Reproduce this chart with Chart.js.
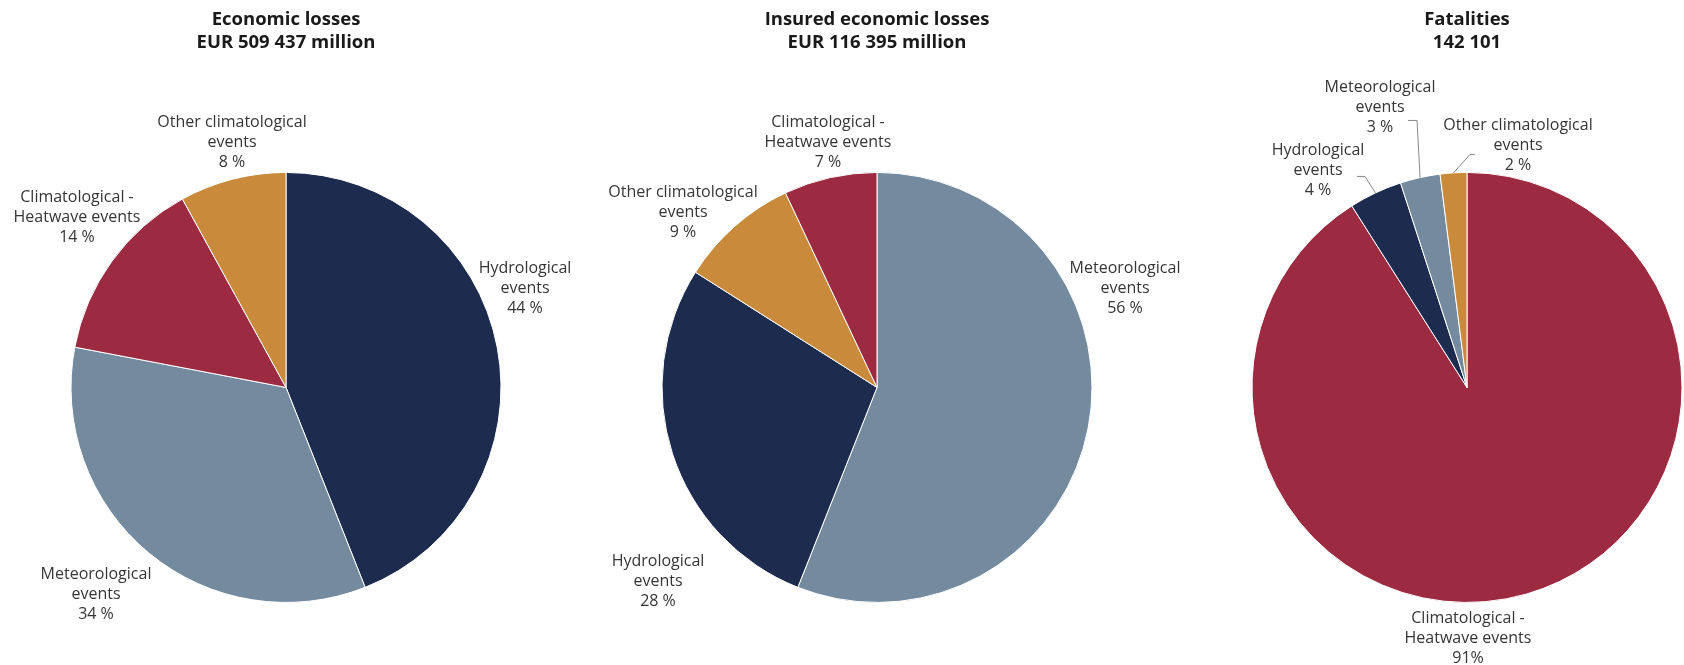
<!DOCTYPE html>
<html>
<head>
<meta charset="utf-8">
<script src="https://cdn.jsdelivr.net/npm/chart.js@4.4.1/dist/chart.umd.min.js"></script>
<style>
  body { margin: 0; background: #fff; }
  #wrap { position: relative; width: 1684px; height: 665px; }
  #wrap canvas { position: absolute; left: 0; top: 0; }
</style>
</head>
<body>
<div id="wrap">
  <canvas id="c-economic" width="1684" height="665"></canvas>
  <canvas id="c-insured" width="1684" height="665"></canvas>
  <canvas id="c-fatalities" width="1684" height="665"></canvas>
</div>
<script>
// Shares by hazard type (%), slices run clockwise from 12 o'clock
const economicTitle = ['Economic losses', 'EUR 509 437 million'];
const economicCats = [['Hydrological', 'events'], ['Meteorological', 'events'], ['Climatological -', 'Heatwave events'], ['Other climatological', 'events']];
const economicPct = [44, 34, 14, 8];

const insuredTitle = ['Insured economic losses', 'EUR 116 395 million'];
const insuredCats = [['Meteorological', 'events'], ['Hydrological', 'events'], ['Other climatological', 'events'], ['Climatological -', 'Heatwave events']];
const insuredPct = [56, 28, 9, 7];

const fatalitiesTitle = ['Fatalities', '142 101'];
const fatalitiesCats = [['Climatological -', 'Heatwave events'], ['Hydrological', 'events'], ['Meteorological', 'events'], ['Other climatological', 'events']];
const fatalitiesPct = [91, 4, 3, 2];
const fatalitiesUnits = ['%', ' %', ' %', ' %'];

const NAVY = '#1d2b4f', SLATE = '#738a9f', CRIMSON = '#9c2a41', OCHRE = '#c98a3b';
const FONT = "'Open Sans', sans-serif";
const W = 1684, R = 215.5;

Chart.defaults.font.family = FONT;

// category text + percentage, centred on an offset from the pie centre,
// optionally with an elbow leader running to the middle of the slice edge
const sliceLabels = {
  id: 'sliceLabels',
  afterDatasetsDraw(chart, args, opts) {
    const ctx = chart.ctx;
    const meta = chart.getDatasetMeta(0);
    const cats = chart.data.labels;
    const vals = chart.data.datasets[0].data;
    const lh = 20;
    ctx.save();
    ctx.font = `16px ${FONT}`;
    ctx.fillStyle = '#363636';
    ctx.strokeStyle = '#8a8a8a';
    ctx.lineWidth = 1;
    ctx.textAlign = 'center';
    ctx.textBaseline = 'middle';
    meta.data.forEach((arc, i) => {
      const [dx, dy] = opts.offsets[i];
      const unit = opts.units ? opts.units[i] : ' %';
      const lines = [...cats[i], vals[i] + unit];
      const x = arc.x + dx;
      const y0 = arc.y + dy - (lines.length - 1) / 2 * lh;
      lines.forEach((t, k) => ctx.fillText(t, x, y0 + k * lh));

      const lead = opts.leaders && opts.leaders[i];
      if (lead) {
        const mid = (arc.startAngle + arc.endAngle) / 2;
        ctx.beginPath();
        ctx.moveTo(arc.x + lead[0], arc.y + lead[2]);
        ctx.lineTo(arc.x + lead[1], arc.y + lead[2]);
        ctx.lineTo(arc.x + Math.cos(mid) * arc.outerRadius, arc.y + Math.sin(mid) * arc.outerRadius);
        ctx.stroke();
      }
    });
    ctx.restore();
  }
};

function makePie(id, title, cats, vals, colors, cx, labelOpts) {
  return new Chart(document.getElementById(id), {
    type: 'pie',
    data: {
      labels: cats,
      datasets: [{ data: vals, backgroundColor: colors, borderColor: '#fff', borderWidth: 1 }],
    },
    options: {
      responsive: false,
      animation: false,
      events: [],
      layout: { padding: { left: cx - R, right: W - cx - R, top: 0, bottom: 62 } },
      plugins: {
        legend: { display: false },
        tooltip: { enabled: false },
        title: {
          display: true, text: title, color: '#1a1a1a',
          font: { size: 18.5, weight: 'bold', family: FONT, lineHeight: 1.24 },
          padding: { top: 8, bottom: 118 },
        },
        sliceLabels: labelOpts,
      },
    },
    plugins: [sliceLabels],
  });
}

makePie('c-economic', economicTitle, economicCats, economicPct,
  [NAVY, SLATE, CRIMSON, OCHRE], 286,
  { offsets: [[239, -99], [-190, 207], [-209, -170], [-54, -245]] });

makePie('c-insured', insuredTitle, insuredCats, insuredPct,
  [SLATE, NAVY, OCHRE, CRIMSON], 877,
  { offsets: [[248, -99], [-219, 194], [-194, -175], [-49, -245]] });

makePie('c-fatalities', fatalitiesTitle, fatalitiesCats, fatalitiesPct,
  [CRIMSON, NAVY, SLATE, OCHRE], 1467,
  {
    offsets: [[1, 251], [-149, -217], [-87, -280], [51, -242]],
    units: fatalitiesUnits,
    leaders: [null, [-110, -102, -211], [-59, -50, -267], [8, 3, -233]],
  });
</script>
</body>
</html>
